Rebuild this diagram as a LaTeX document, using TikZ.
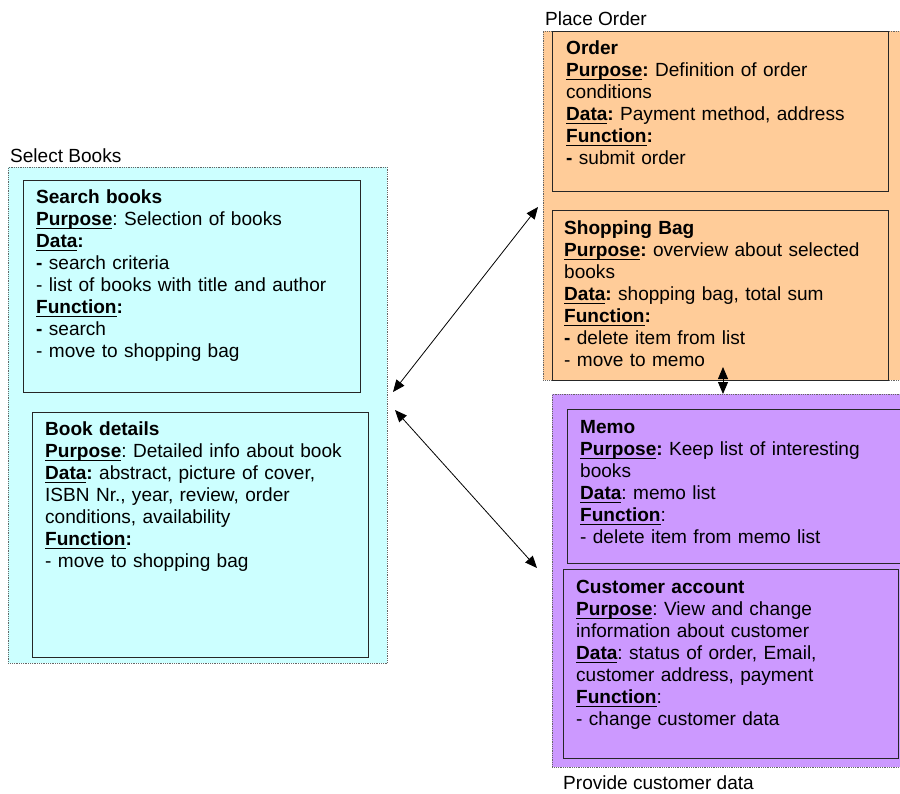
\documentclass[tikz,border=0pt]{standalone}
\usepackage{fontspec}
\setmainfont{Liberation Sans}
\usepackage{tikz}
\usetikzlibrary{arrows.meta}

\definecolor{selectcol}{HTML}{CCFFFF}
\definecolor{ordercol}{HTML}{FFCC99}
\definecolor{customercol}{HTML}{CC99FF}

\frenchspacing

% underlined bold heading word
\newcommand\ulabel[1]{\leavevmode\setbox0=\hbox{\bfseries #1}\rlap{\rule[-3.9pt]{\wd0}{1.3pt}}\box0}

\tikzset{
  group/.style={draw=black!60, densely dotted, line width=0.8pt, anchor=north west, inner sep=0pt},
  pagebox/.style={draw=black!85, line width=0.9pt, anchor=north west, inner sep=0pt},
  boxtext/.style={anchor=base west, inner sep=0pt, text width=340pt, align=left,
    font=\fontsize{19.05}{22.1}\selectfont},
  grouplabel/.style={anchor=base west, inner sep=0pt, font=\fontsize{19.05}{22.1}\selectfont},
  link/.style={{Triangle[length=12pt,width=10pt]}-{Triangle[length=12pt,width=10pt]}, line width=0.8pt}
}

\begin{document}
\begin{tikzpicture}[x=1pt, y=-1pt]

\clip (0,0) rectangle (900,793);

% groups

\node[group, fill=selectcol, minimum width=379pt, minimum height=496pt] (selectbooks) at (8,167) {};
\node[group, fill=ordercol, minimum width=365pt, minimum height=349pt] (placeorder) at (543,31) {};
\node[group, fill=customercol, minimum width=355pt, minimum height=373pt] (customerdata) at (552,394) {};

\node[grouplabel] (selectlabel) at (10,162) {Select Books};
\node[grouplabel] (orderlabel) at (545,25) {Place Order};
\node[grouplabel] (customerlabel) at (563,789) {Provide customer data};

% pages of the left group

\node[pagebox, minimum width=337pt, minimum height=212pt] (search) at (23,180) {};
\node[pagebox, minimum width=336pt, minimum height=245pt] (details) at (32,412) {};

\node[boxtext] (searchtxt) at (36,203) {\textbf{Search books}\\
\ulabel{Purpose}: Selection of books\\
\ulabel{Data}\textbf{:}\\
\textbf{-} search criteria\\
- list of books with title and author\\
\ulabel{Function}\textbf{:}\\
\textbf{-} search\\
- move to shopping bag};

\node[boxtext] (detailstxt) at (45,435) {\textbf{Book details}\\
\ulabel{Purpose}: Detailed info about book\\
\ulabel{Data}\textbf{:} abstract, picture of cover,\\
ISBN Nr., year, review, order\\
conditions, availability\\
\ulabel{Function}\textbf{:}\\
- move to shopping bag};

% pages of the order group

\node[pagebox, minimum width=336pt, minimum height=160pt] (order) at (552,31) {};
\node[pagebox, minimum width=336pt, minimum height=170pt] (bag) at (552,210) {};

\node[boxtext] (ordertxt) at (566,54) {\textbf{Order}\\
\ulabel{Purpose}\textbf{:} Definition of order\\
conditions\\
\ulabel{Data}\textbf{:} Payment method, address\\
\ulabel{Function}\textbf{:}\\
\textbf{-} submit order};

\node[boxtext] (bagtxt) at (564,234) {\textbf{Shopping Bag}\\
\ulabel{Purpose}\textbf{:} overview about selected\\
books\\
\ulabel{Data}\textbf{:} shopping bag, total sum\\
\ulabel{Function}\textbf{:}\\
\textbf{-} delete item from list\\
- move to memo};

% pages of the customer group

\node[pagebox, minimum width=345pt, minimum height=154pt] (memo) at (567,409) {};
\node[pagebox, minimum width=335pt, minimum height=189pt] (account) at (563,569) {};

\node[boxtext] (memotxt) at (580,433) {\textbf{Memo}\\
\ulabel{Purpose}\textbf{:} Keep list of interesting\\
books\\
\ulabel{Data}: memo list\\
\ulabel{Function}:\\
- delete item from memo list};

\node[boxtext] (accounttxt) at (576,593) {\textbf{Customer account}\\
\ulabel{Purpose}: View and change\\
information about customer\\
\ulabel{Data}: status of order, Email,\\
customer address, payment\\
\ulabel{Function}:\\
- change customer data};

% links between groups

\coordinate (selectout1) at (393,392);
\coordinate (selectout2) at (395,410);
\coordinate (orderin) at (538,207);
\coordinate (customerin) at (537,568);
\coordinate (bagout) at (723,367);
\coordinate (memoin) at (723,394);

\draw[link] (selectout1) -- (orderin);
\draw[link] (selectout2) -- (customerin);
\draw[link] (bagout) -- (memoin);

\end{tikzpicture}
\end{document}
